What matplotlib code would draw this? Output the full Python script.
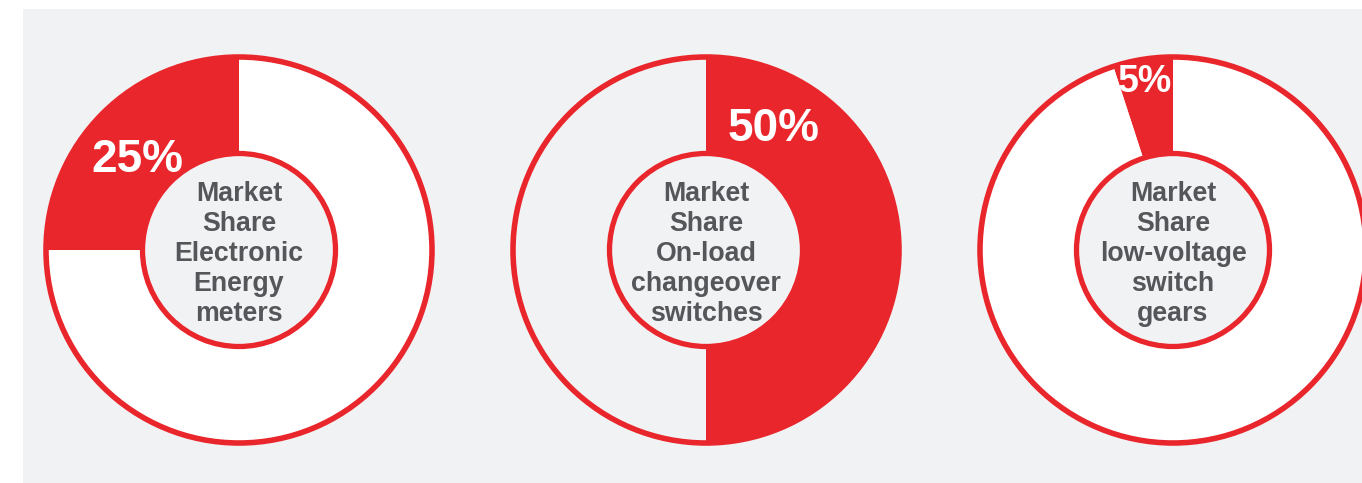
import matplotlib
matplotlib.use("Agg")
import matplotlib.pyplot as plt
from matplotlib.patches import Circle, Rectangle

# Market share per product segment
segments = ["Market\nShare\nElectronic\nEnergy\nmeters",
            "Market\nShare\nOn-load\nchangeover\nswitches",
            "Market\nShare\nlow-voltage\nswitch\ngears"]
shares = [25, 50, 5]
share_labels = ["25%", "50%", "5%"]

RED = "#E9262B"
PANEL = "#F1F2F4"
TEXT = "#54565A"

W, H = 1362, 483
fig = plt.figure(figsize=(W / 100, H / 100), dpi=100)
fig.patch.set_facecolor("white")
ax = fig.add_axes([0, 0, 1, 1])

# donut layout (pixel units, y measured upward)
centers = [(239, 233), (706, 233), (1173, 233)]
rest_colors = ["white", PANEL, "white"]
counterclock = [True, False, True]
label_pos = [(137, 323), (774, 354), (1145, 401)]
label_size = [33, 33, 27]
r_out, r_in = 193, 96.5

ax.add_patch(Rectangle((23, 0), W - 23, H - 9, facecolor=PANEL,
                       edgecolor="none", zorder=0))

for i, (share, c) in enumerate(zip(shares, centers)):
    ax.pie([share, 100 - share], colors=[RED, rest_colors[i]],
           startangle=90, counterclock=counterclock[i],
           center=c, radius=r_out,
           wedgeprops=dict(width=r_out - r_in, linewidth=0, zorder=1))
    ax.add_patch(Circle(c, r_out, facecolor="none", edgecolor=RED,
                        linewidth=4.0, zorder=3))
    ax.add_patch(Circle(c, r_in, facecolor=PANEL, edgecolor=RED,
                        linewidth=3.8, zorder=3))
    ax.text(c[0], c[1] - 4, segments[i], ha="center", va="center",
            fontsize=19.3, fontweight="bold", color=TEXT,
            family="Liberation Sans", linespacing=1.19, zorder=4)
    ax.text(label_pos[i][0], label_pos[i][1], share_labels[i],
            ha="center", va="center", fontsize=label_size[i],
            fontweight="bold", color="white", family="Liberation Sans",
            zorder=4)

ax.set_xlim(0, W)
ax.set_ylim(0, H)
ax.set_aspect("equal")
ax.axis("off")

fig.savefig("out.png", dpi=100, facecolor=fig.get_facecolor())
